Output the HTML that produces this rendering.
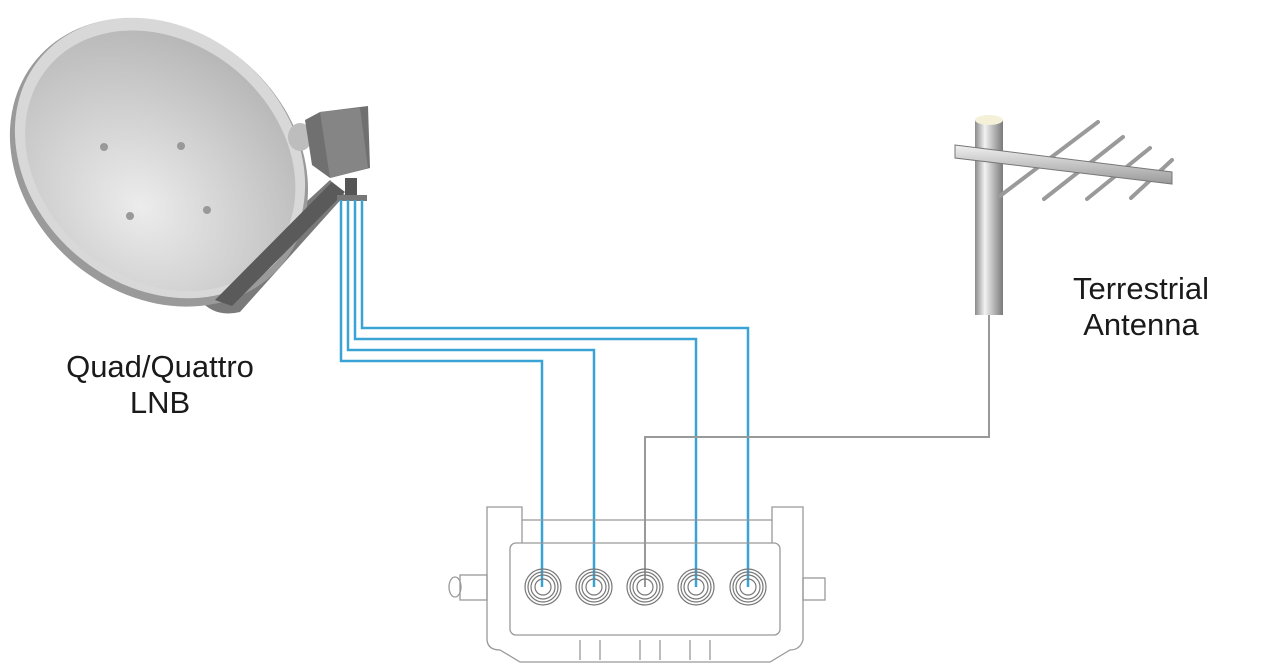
<!DOCTYPE html>
<html><head><meta charset="utf-8"><style>
html,body{margin:0;padding:0;background:#fff;}
svg{display:block;}
text{font-family:"Liberation Sans",sans-serif;font-size:31px;fill:#1a1a1a;}
</style></head><body>
<svg width="1280" height="665" viewBox="0 0 1280 665" xmlns="http://www.w3.org/2000/svg">
<defs>
<radialGradient id="dish" cx="0.55" cy="0.7" r="0.75">
<stop offset="0" stop-color="#ececec"/><stop offset="1" stop-color="#b4b4b4"/></radialGradient>
<linearGradient id="pole" x1="0" x2="1"><stop offset="0" stop-color="#8a8a8a"/><stop offset="0.35" stop-color="#f2f2f2"/><stop offset="1" stop-color="#7a7a7a"/></linearGradient>
<linearGradient id="boom" x1="0" y1="0" x2="0" y2="1"><stop offset="0" stop-color="#f0f0f0"/><stop offset="1" stop-color="#999"/></linearGradient>
</defs>
<path d="M200 300 Q215 318 240 312 L345 195 L330 180 Z" fill="#7a7a7a"/>
<g transform="rotate(40 160 158)">
<ellipse cx="162" cy="162" rx="160" ry="132" fill="#9a9a9a"/>
<ellipse cx="160" cy="158" rx="156" ry="128" fill="#d8d8d8"/>
<ellipse cx="162" cy="160" rx="146" ry="118" fill="url(#dish)"/>
</g>
<circle cx="104" cy="147" r="4" fill="#999"/><circle cx="181" cy="146" r="4" fill="#999"/>
<circle cx="130" cy="216" r="4" fill="#999"/><circle cx="207" cy="210" r="4" fill="#999"/>
<path d="M215 300 L232 306 L345 192 L332 182 Z" fill="#5a5a5a"/>
<ellipse cx="300" cy="137" rx="12" ry="14" fill="#bdbdbd"/>
<path d="M305 120 L320 112 L368 106 L370 168 L330 178 L312 165 Z" fill="#707070"/>
<path d="M320 112 L360 108 L368 168 L330 178 Z" fill="#858585"/>
<rect x="345" y="178" width="12" height="18" fill="#555"/>
<rect x="337" y="195" width="30" height="6" fill="#777"/>
<rect x="975" y="120" width="28" height="195" fill="url(#pole)"/>
<ellipse cx="989" cy="120" rx="14" ry="5" fill="#f4f1d8"/>
<g stroke="#9a9a9a" stroke-width="4" stroke-linecap="round">
<line x1="1000" y1="196" x2="1098" y2="122"/>
<line x1="1044" y1="199" x2="1123" y2="137"/>
<line x1="1087" y1="199" x2="1150" y2="148"/>
<line x1="1131" y1="198" x2="1172" y2="160"/>
</g>
<path d="M955 145 L1172 172 L1172 184 L955 158 Z" fill="url(#boom)" stroke="#777" stroke-width="1"/>
<g fill="none" stroke="#3aa3d6" stroke-width="2.5">
<path d="M341 200 V361 H542 V587"/>
<path d="M348 200 V350 H594 V587"/>
<path d="M355 200 V339 H696 V587"/>
<path d="M362 200 V328 H748 V587"/>
</g>
<path d="M989 315 V437 H645 V587" fill="none" stroke="#999" stroke-width="2"/>
<g fill="none" stroke="#999" stroke-width="1.3">
<path d="M487 507 H522 V520 H772 V507 H803 V640 Q800 650 790 650 L770 662 H520 L500 650 Q488 650 487 640 Z"/>
<line x1="522" y1="520" x2="522" y2="543"/><line x1="772" y1="520" x2="772" y2="543"/>
<rect x="510" y="543" width="270" height="92" rx="6"/>
<path d="M580 640 V660 M600 640 V660 M640 640 V660 M660 640 V660 M690 640 V660 M710 640 V660"/>
<rect x="460" y="575" width="27" height="25"/><ellipse cx="455" cy="587" rx="6" ry="10"/>
<rect x="803" y="578" width="22" height="22"/>
</g>
<g fill="none" stroke="#777" stroke-width="1.2">
<g transform="translate(543 587)"><circle r="18"/><circle r="15"/><circle r="12"/><circle r="8"/></g>
<g transform="translate(594 587)"><circle r="18"/><circle r="15"/><circle r="12"/><circle r="8"/></g>
<g transform="translate(645 587)"><circle r="18"/><circle r="15"/><circle r="12"/><circle r="8"/></g>
<g transform="translate(696 587)"><circle r="18"/><circle r="15"/><circle r="12"/><circle r="8"/></g>
<g transform="translate(748 587)"><circle r="18"/><circle r="15"/><circle r="12"/><circle r="8"/></g>
</g>
<text x="160" y="377" text-anchor="middle">Quad/Quattro</text>
<text x="160" y="413" text-anchor="middle">LNB</text>
<text x="1141" y="299" text-anchor="middle">Terrestrial</text>
<text x="1141" y="335" text-anchor="middle">Antenna</text>
</svg>
</body></html>
